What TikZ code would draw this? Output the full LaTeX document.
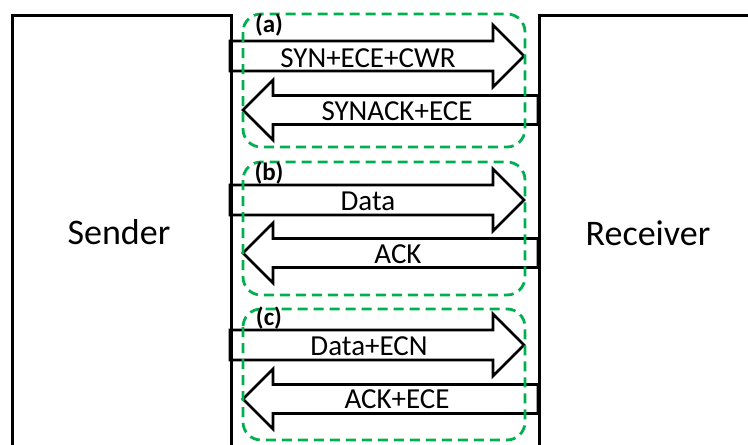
\documentclass[tikz,border=0pt]{standalone}
\usepackage{fontspec}
\setmainfont{Carlito}
\definecolor{ecngreen}{RGB}{0,176,80}
\tikzset{
  host/.style={draw, line width=2.8pt, inner sep=0pt},
  hostname/.style={font=\fontsize{36}{40}\selectfont, anchor=base},
  pipe/.style={draw, line width=2.8pt, fill=white, line join=miter},
  phase/.style={draw=ecngreen, line width=2.8pt, dash pattern=on 10pt off 6pt, rounded corners=18pt},
  msg/.style={font=\fontsize{29}{32}\selectfont, anchor=base},
  tag/.style={font=\bfseries\fontsize{25}{28}\selectfont, anchor=base},
}
\begin{document}
\begin{tikzpicture}[x=1pt,y=-1pt]
\useasboundingbox (0,0) rectangle (748,445);
\clip (0,0) rectangle (748,445);
% fat arrows, sender -> receiver
\foreach \c in {56,200,345}
  \draw[pipe] (230,\c-15) -- (493,\c-15) -- (493,\c-31) -- (524,\c)
    -- (493,\c+31) -- (493,\c+15) -- (230,\c+15) -- cycle;
% fat arrows, receiver -> sender
\foreach \c in {110,253,399}
  \draw[pipe] (538,\c-14.5) -- (273,\c-14.5) -- (273,\c-30) -- (243,\c)
    -- (273,\c+30) -- (273,\c+14.5) -- (538,\c+14.5) -- cycle;
% the two hosts
\node[host, minimum width=219pt, minimum height=446pt, anchor=north west] (snd) at (11,14) {};
\node[host, minimum width=222pt, minimum height=446pt, anchor=north west] (rcv) at (538,14) {};
\node[hostname] (sndname) at (119,244) {Sender};
\node[hostname] (rcvname) at (648,245) {Receiver};
% phases
\draw[phase] (243,14) rectangle (525,147);
\draw[phase] (243,162) rectangle (525,295);
\draw[phase] (243,309) rectangle (525,440);
\node[tag] (taga) at (269,32) {(a)};
\node[tag] (tagb) at (269,180) {(b)};
\node[tag] (tagc) at (269,325) {(c)};
% messages
\node[msg] (syn) at (368,67) {SYN+ECE+CWR};
\node[msg] (synack) at (397,120) {SYNACK+ECE};
\node[msg] (data) at (368,210) {Data};
\node[msg] (ack) at (398,263) {ACK};
\node[msg] (dataecn) at (369,355) {Data+ECN};
\node[msg] (ackece) at (397,408) {ACK+ECE};
\end{tikzpicture}
\end{document}
